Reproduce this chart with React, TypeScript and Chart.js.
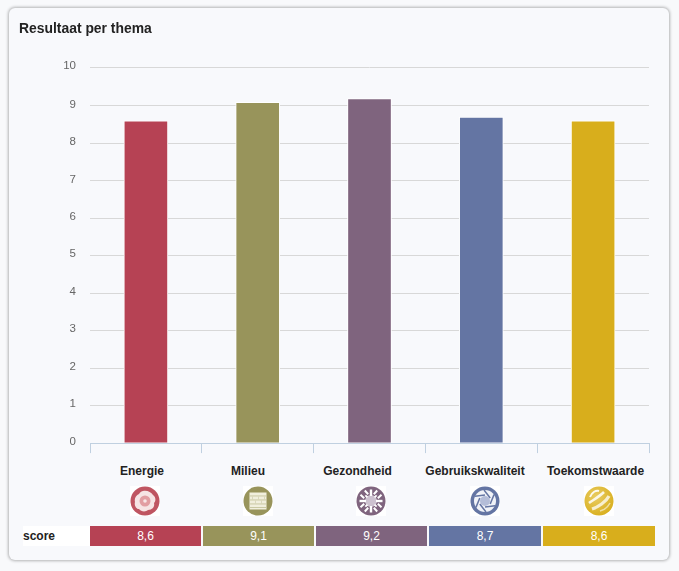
import React, { useEffect, useRef } from "react";
import { Chart, registerables } from "chart.js";

Chart.register(...registerables);

const categories = ["Energie", "Milieu", "Gezondheid", "Gebruikskwaliteit", "Toekomstwaarde"];
const barValues = [8.6, 9.1, 9.2, 8.7, 8.6];
const scoreLabels = ["8,6", "9,1", "9,2", "8,7", "8,6"];
const colors = ["#b64254", "#98945b", "#7f647e", "#6475a3", "#d8ae1c"];
const yTicks = [0, 1, 2, 3, 4, 5, 6, 7, 8, 9, 10];
const yTop = 10.04;

const FONT = '"Liberation Sans", Arial, sans-serif';
const labelCenters = [142, 248, 357.5, 475, 595.5];
const iconCenters = [145, 258, 371, 485, 599];
const cellEdges = [[90, 201], [203, 314], [316, 427], [429, 541], [543, 655]];

function Icon({ index }: { index: number }) {
  const c = colors[index];
  const arms = [0, 90, 180, 270];
  const diagonals = [45, 135, 225, 315];
  const blades = [0, 60, 120, 180, 240, 300];
  return (
    <svg width={30} height={30} viewBox="-15 -15 30 30" style={{ position: "absolute", left: iconCenters[index] - 15, top: 486, display: "block" }}>
      <defs>
        <radialGradient id="ball" cx="40%" cy="35%" r="70%">
          <stop offset="0%" stopColor="#e9cc62" />
          <stop offset="100%" stopColor="#d8ae1c" />
        </radialGradient>
      </defs>
      <rect x={-15} y={-15} width={30} height={30} fill="#fff" />
      {index === 0 && (
        <g>
          <circle r={14.5} fill="#bf5561" />
          <path d="M-2 -10 C2 -11 6 -9 8 -6 C11 -4 11 0 9 2 C10 6 7 9 3 9 C1 11 -4 11 -6 8 C-9 8 -11 4 -10 1 C-11 -2 -9 -6 -6 -7 C-5 -9 -3 -10 -2 -10 Z" fill="#f6e4e4" />
          <circle r={5.5} fill="#e29ea2" />
          <circle r={1.8} fill="#f8e6e6" />
        </g>
      )}
      {index === 1 && (
        <g>
          <circle r={14.5} fill={c} />
          <rect x={-8.5} y={-8.5} width={17} height={17} fill="#f1efdd" />
          {[-5.5, -1.5, 2.5, 6].map((y) => (
            <rect key={y} x={-8.5} y={y} width={17} height={0.9} fill="#c5c39c" />
          ))}
          {[-6, 0, 6].map((x) => (
            <rect key={x} x={x} y={-4.5} width={0.8} height={3} fill="#d5d3b5" />
          ))}
          {[-3, 3].map((x) => (
            <rect key={x} x={x} y={-0.5} width={0.8} height={3} fill="#d5d3b5" />
          ))}
        </g>
      )}
      {index === 2 && (
        <g>
          <circle r={14.5} fill={c} />
          <circle r={6} fill="#cdc2d0" />
          {arms.map((a) => (
            <g key={a} transform={`rotate(${a})`}>
              <rect x={-1.2} y={-11.5} width={2.4} height={6.5} fill="#fff" />
              <path d="M-6.2 -10.5 L-2.8 -6.8 M6.2 -10.5 L2.8 -6.8" stroke="#fff" strokeWidth={2} />
            </g>
          ))}
          {diagonals.map((a) => (
            <g key={a} transform={`rotate(${a})`}>
              <rect x={-0.9} y={-8} width={1.8} height={3} fill="#fff" />
            </g>
          ))}
        </g>
      )}
      {index === 3 && (
        <g>
          <circle r={14.5} fill={c} />
          <circle r={11} fill="#f1f3f8" />
          <circle r={5} fill="#b4bdd8" />
          {blades.map((a) => (
            <path key={a} transform={`rotate(${a})`} d="M-1 -11 L5.2 -3" stroke={c} strokeWidth={1.5} />
          ))}
        </g>
      )}
      {index === 4 && (
        <g>
          <circle r={14.5} fill="url(#ball)" />
          <path d="M-9 -4 C-7 -9 -3 -11 0 -10" stroke="#fff" strokeWidth={2} fill="none" opacity={0.9} />
          <path d="M-10 2 C-6 -1 0 -4 5 -9" stroke="#fff" strokeWidth={2.6} fill="none" opacity={0.85} />
          <path d="M-7 8 C-1 6 7 1 10 -5" stroke="#fff" strokeWidth={3.2} fill="none" opacity={0.75} />
          <path d="M1 10 C5 9 9 6 11 2" stroke="#fff" strokeWidth={1.6} fill="none" opacity={0.55} />
        </g>
      )}
    </svg>
  );
}

export default function App() {
  const ref = useRef<HTMLCanvasElement>(null);

  useEffect(() => {
    document.body.style.margin = "0";
    document.body.style.background = "#f8f9fb";
    const chart = new Chart(ref.current!, {
      type: "bar",
      data: {
        labels: categories,
        datasets: [
          {
            label: "score",
            data: barValues,
            backgroundColor: colors,
            borderColor: "#ffffff",
            borderWidth: 1,
            borderSkipped: "bottom",
            barThickness: 44,
          },
        ],
      },
      options: {
        animation: false,
        responsive: false,
        maintainAspectRatio: false,
        layout: { padding: { left: 0, right: 30, top: 67, bottom: 0 } },
        plugins: { legend: { display: false }, tooltip: { enabled: false } },
        scales: {
          x: {
            offset: true,
            afterFit: (s: any) => {
              s.height = 10;
            },
            grid: { drawOnChartArea: false, color: "#c0d0e0", tickLength: 10 },
            border: { color: "#c0d0e0" },
            ticks: { display: false },
          },
          y: {
            min: 0,
            max: yTop,
            afterFit: (s: any) => {
              s.width = 90;
            },
            afterBuildTicks: (s: any) => {
              s.ticks = yTicks.map((value) => ({ value: value === 10 ? yTop : value }));
            },
            grid: { color: "#d8d8d8", drawTicks: false },
            border: { display: false },
            ticks: {
              padding: 14,
              color: "#666",
              labelOffset: -1.5,
              font: { family: FONT, size: 11.5 },
              callback: (v: any) => String(Math.floor(Number(v))),
            },
          },
        },
      },
    });
    return () => chart.destroy();
  }, []);

  return (
    <div style={{ position: "relative", width: 679, height: 571, overflow: "hidden", fontFamily: FONT }}>
      <div
        style={{
          position: "absolute",
          left: 9,
          top: 8,
          width: 660,
          height: 552,
          boxSizing: "border-box",
          borderRadius: 6,
          background: "#f8f9fc",
          boxShadow: "0 0 3px 1px rgba(0,0,0,0.28)",
        }}
      />
      <canvas ref={ref} width={679} height={464} style={{ position: "absolute", left: 0, top: 0, width: 679, height: 464 }} />
      <div style={{ position: "absolute", left: 19, top: 20, fontSize: 13.9, fontWeight: 700, lineHeight: "16px", color: "#222" }}>
        Resultaat per thema
      </div>
      {categories.map((name, i) => (
        <div
          key={name}
          style={{
            position: "absolute",
            left: labelCenters[i] - 70,
            width: 140,
            top: 464,
            textAlign: "center",
            fontSize: 12,
            fontWeight: 700,
            lineHeight: "14px",
            color: "#222",
          }}
        >
          {name}
        </div>
      ))}
      {categories.map((name, i) => (
        <Icon key={name} index={i} />
      ))}
      <div style={{ position: "absolute", left: 23, top: 526, width: 67, height: 20, background: "#fff", fontSize: 12, fontWeight: 700, lineHeight: "20px", color: "#222" }}>
        score
      </div>
      {scoreLabels.map((text, i) => (
        <div
          key={i}
          style={{
            position: "absolute",
            left: cellEdges[i][0],
            width: cellEdges[i][1] - cellEdges[i][0],
            top: 526,
            height: 20,
            background: colors[i],
            color: "#fff",
            fontSize: 12,
            lineHeight: "20px",
            textAlign: "center",
          }}
        >
          {text}
        </div>
      ))}
    </div>
  );
}
